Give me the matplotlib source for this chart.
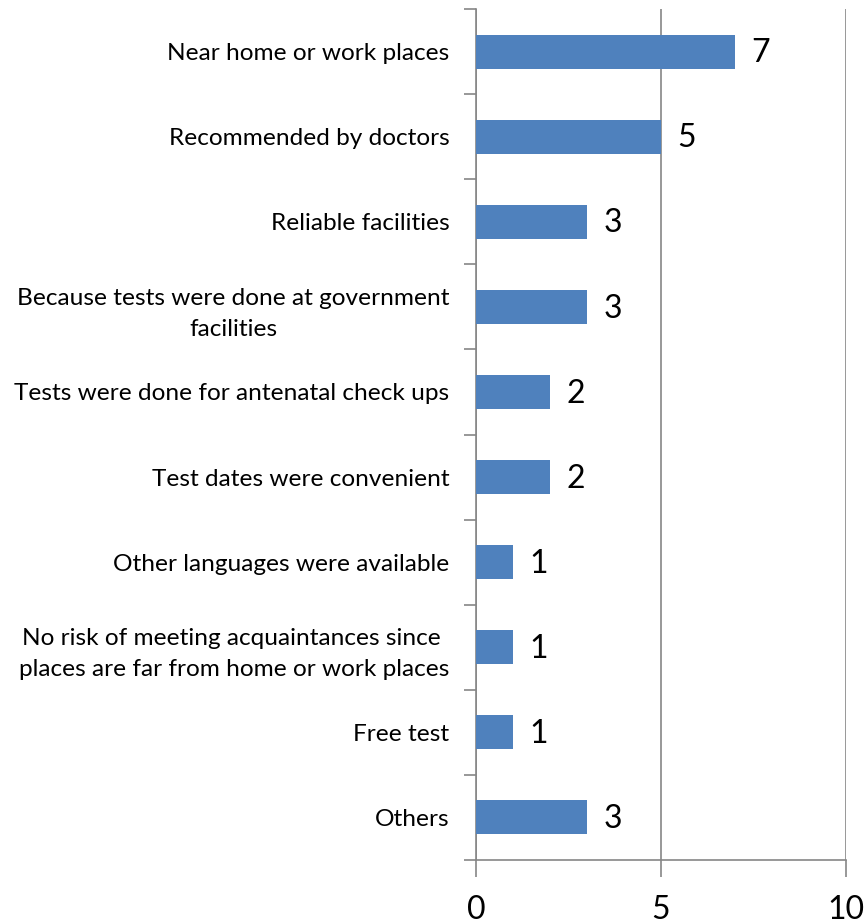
import matplotlib
matplotlib.use('Agg')
from matplotlib import pyplot as plt
import numpy as np

categories = [
    'Near home or work places',
    'Recommended by doctors',
    'Reliable facilities',
    'Because tests were done at government\nfacilities',
    'Tests were done for antenatal check ups',
    'Test dates were convenient',
    'Other languages were available',
    'No risk of meeting acquaintances since \nplaces are far from home or work places',
    'Free test',
    'Others',
]
counts = [7, 5, 3, 3, 2, 2, 1, 1, 1, 3]
x_ticks = [0, 5, 10]

plt.rcParams['font.family'] = ['Lato', 'DejaVu Sans']
gray = '#868686'

fig = plt.figure(figsize=(8.66, 9.23), dpi=100)
ax = fig.add_axes([476 / 866, 1 - 860 / 923, 370 / 866, 851 / 923])

pos = np.arange(len(categories))
ax.barh(pos, counts, height=0.4, color='#4F81BD', zorder=3)

for p, v in zip(pos, counts):
    ax.text(v + 0.45, p + 0.02, str(v), va='center', ha='left', fontsize=23)

ax.set_xlim(0, 10)
ax.set_ylim(len(categories) - 0.5, -0.5)

ax.set_xticks(x_ticks)
ax.set_xticklabels([str(t) for t in x_ticks], fontsize=23)
ax.tick_params(axis='x', length=12, width=1.2, color=gray, pad=13)
ax.xaxis.grid(True, color=gray, linewidth=1.2, zorder=0)

ax.set_yticks(pos)
ax.set_yticklabels(categories, fontsize=17.6, linespacing=1.6)
for lbl in ax.get_yticklabels():
    lbl.set_multialignment('center')
ax.set_yticks(np.arange(-0.5, len(categories)), minor=True)
ax.tick_params(axis='y', which='major', length=0, pad=19)
ax.tick_params(axis='y', which='minor', length=9, width=1.2, color=gray)

for s in ['top', 'right']:
    ax.spines[s].set_visible(False)
for s in ['left', 'bottom']:
    ax.spines[s].set_color(gray)
    ax.spines[s].set_linewidth(1.2)

fig.savefig('out.png', dpi=100)
